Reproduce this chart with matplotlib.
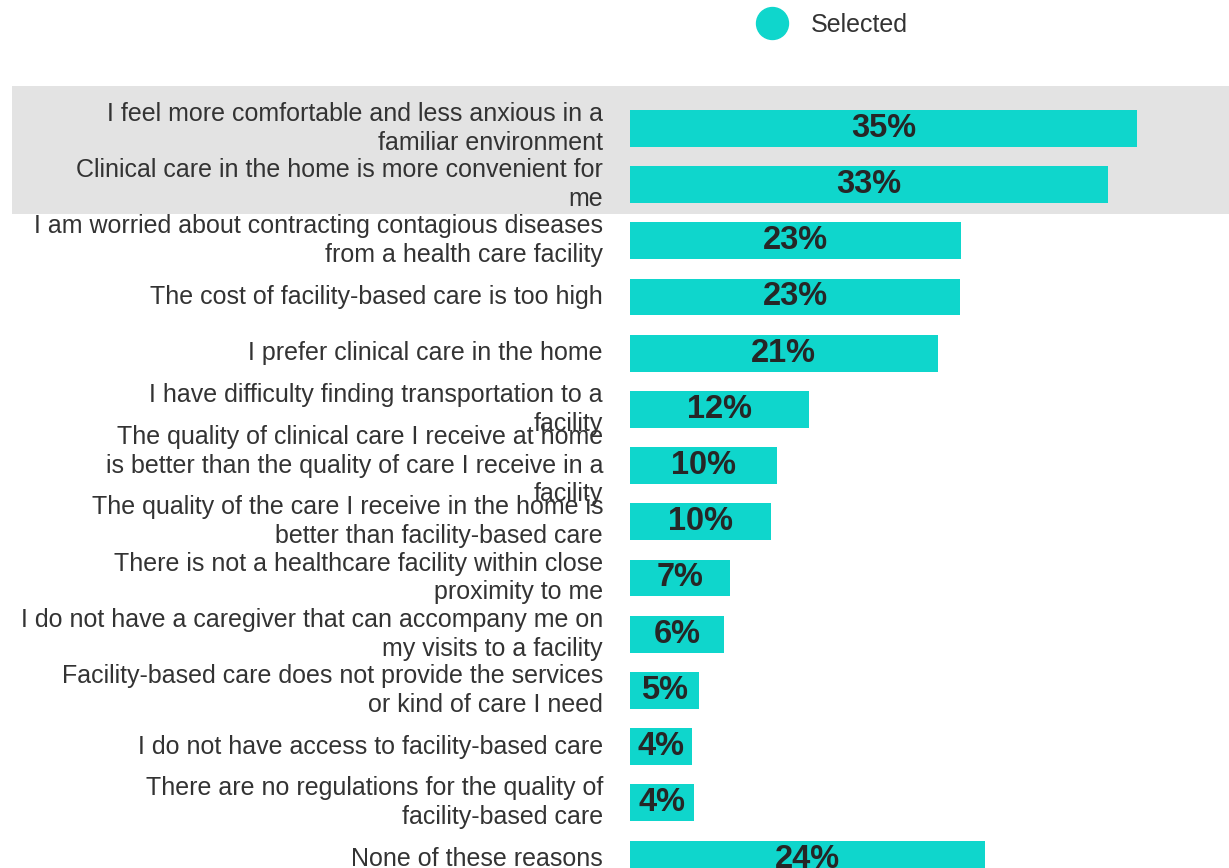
import matplotlib
matplotlib.use("Agg")
import matplotlib.pyplot as plt
import matplotlib.transforms as mtransforms
from matplotlib.patches import Rectangle
from matplotlib.lines import Line2D

plt.rcParams['font.family'] = ['Liberation Sans', 'DejaVu Sans']

categories = [
    "I feel more comfortable and less anxious in a\nfamiliar environment",
    "Clinical care in the home is more convenient for\nme",
    "I am worried about contracting contagious diseases\nfrom a health care facility",
    "The cost of facility-based care is too high",
    "I prefer clinical care in the home",
    "I have difficulty finding transportation to a\nfacility",
    "The quality of clinical care I receive at home\nis better than the quality of care I receive in a\nfacility",
    "The quality of the care I receive in the home is\nbetter than facility-based care",
    "There is not a healthcare facility within close\nproximity to me",
    "I do not have a caregiver that can accompany me on\nmy visits to a facility",
    "Facility-based care does not provide the services\nor kind of care I need",
    "I do not have access to facility-based care",
    "There are no regulations for the quality of\nfacility-based care",
    "None of these reasons",
]
values = [34.6, 32.6, 22.6, 22.55, 21.0, 12.2, 10.0, 9.6, 6.8, 6.45, 4.7, 4.2, 4.4, 24.2]
series_name = "Selected"

BAR = '#0FD6CC'
W, H = 1229, 868
fig = plt.figure(figsize=(W / 100, H / 100), dpi=100)

ax_left, ax_right = 630, 1229
ax_top, ax_bottom = 86, 868
ax = fig.add_axes([ax_left / W, 1 - ax_bottom / H, (ax_right - ax_left) / W, (ax_bottom - ax_top) / H])

y = list(range(len(categories)))
ax.barh(y, values, height=0.655, color=BAR, zorder=2)
ax.set_ylim(13.16, -0.753)
ax.set_xlim(0, (ax_right - ax_left) / 14.65)
ax.axis('off')

# highlight band behind the first two rows
trans = mtransforms.blended_transform_factory(fig.transFigure, ax.transData)
ax.add_patch(Rectangle((12 / W, -0.753), 1 - 12 / W, 2.28, transform=trans,
                       facecolor='#E3E3E3', edgecolor='none', zorder=0, clip_on=False))

label_trans = mtransforms.offset_copy(ax.transData, fig=fig, x=-27, y=0, units='dots')
for i, (cat, v) in enumerate(zip(categories, values)):
    ax.text(0, i, cat, transform=label_trans, ha='right', va='center', multialignment='right',
            fontsize=18, color='#333333', linespacing=1.25, clip_on=False)
    ax.text(v / 2, i, f"{v:.0f}%", ha='center', va='center', fontsize=23.5,
            fontweight='bold', color='#262626', zorder=3)

handle = Line2D([], [], marker='o', linestyle='none', markersize=23,
                markerfacecolor=BAR, markeredgecolor=BAR)
fig.legend([handle], [series_name], loc='center left', bbox_to_anchor=(756 / W, 1 - 25 / H),
           frameon=False, fontsize=18, labelcolor='#333333', handletextpad=0.9,
           borderpad=0, borderaxespad=0, handlelength=1.3)

fig.savefig('out.png', dpi=100)
